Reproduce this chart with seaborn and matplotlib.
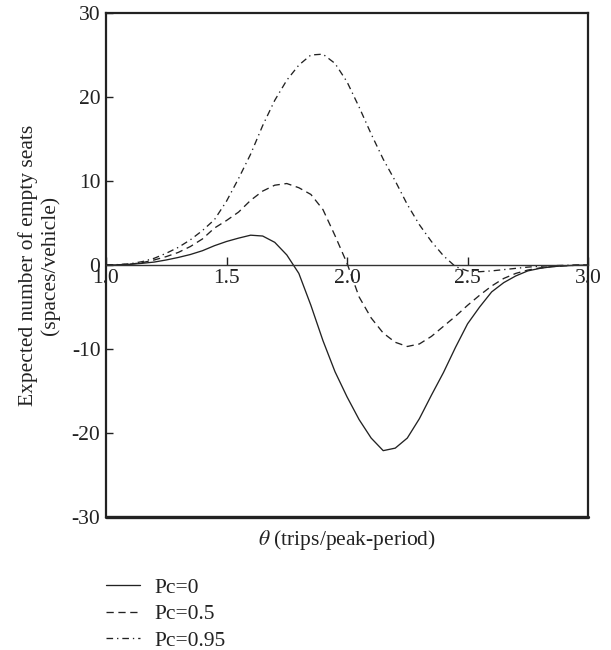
import pandas as pd
import matplotlib
matplotlib.use("Agg")
import matplotlib.pyplot as plt
import seaborn as sns

# values
theta = [1.00, 1.05, 1.10, 1.15, 1.20, 1.25, 1.30, 1.35, 1.40, 1.45,
         1.50, 1.55, 1.60, 1.65, 1.70, 1.75, 1.80, 1.85, 1.90, 1.95,
         2.00, 2.05, 2.10, 2.15, 2.20, 2.25, 2.30, 2.35, 2.40, 2.45,
         2.50, 2.55, 2.60, 2.65, 2.70, 2.75, 2.80, 2.85, 2.90, 2.95, 3.00]

pc_0 = [0.0, 0.02, 0.08, 0.2, 0.35, 0.6, 0.9, 1.25, 1.7, 2.3,
        2.8, 3.2, 3.55, 3.45, 2.7, 1.2, -1.0, -4.8, -9.0, -12.7,
        -15.7, -18.4, -20.6, -22.1, -21.8, -20.6, -18.3, -15.5, -12.8, -9.8,
        -7.0, -5.0, -3.2, -2.1, -1.3, -0.7, -0.4, -0.2, -0.1, -0.03, 0.0]

pc_05 = [0.0, 0.03, 0.1, 0.28, 0.6, 1.0, 1.5, 2.2, 3.1, 4.4,
         5.3, 6.3, 7.7, 8.8, 9.5, 9.7, 9.2, 8.4, 6.6, 3.5,
         0.2, -3.8, -6.3, -8.1, -9.2, -9.7, -9.4, -8.5, -7.3, -6.1,
         -4.8, -3.6, -2.5, -1.6, -1.0, -0.6, -0.35, -0.2, -0.1, -0.03, 0.0]

pc_095 = [0.0, 0.05, 0.15, 0.4, 0.8, 1.4, 2.1, 3.0, 4.1, 5.4,
          7.6, 10.3, 13.2, 16.6, 19.6, 22.0, 23.8, 25.0, 25.1, 24.0,
          21.8, 18.8, 15.6, 12.6, 10.0, 7.2, 4.8, 2.8, 1.1, -0.2,
          -0.7, -0.8, -0.7, -0.55, -0.4, -0.25, -0.15, -0.08, -0.04, -0.01, 0.0]

labels = ["Pc=0", "Pc=0.5", "Pc=0.95"]
styles = ["-", (0, (5.5, 3.5)), (0, (5, 3, 1, 3))]

x_ticks = [1.0, 1.5, 2.0, 2.5, 3.0]
y_ticks = [30, 20, 10, 0, -10, -20, -30]

df = pd.DataFrame({"theta": theta, labels[0]: pc_0, labels[1]: pc_05, labels[2]: pc_095})

sns.set_style("white")
plt.rcParams["font.family"] = ["Liberation Serif", "DejaVu Serif"]
plt.rcParams["mathtext.fontset"] = "stix"
plt.rcParams["axes.unicode_minus"] = False
fs = 15.5

fig = plt.figure(figsize=(6.11, 6.5), dpi=100)
ax = fig.add_axes([0.1735, 0.2046, 0.789, 0.7754])

for lab, ls in zip(labels, styles):
    sns.lineplot(data=df, x="theta", y=lab, ax=ax, color="#222222",
                 linestyle=ls, linewidth=0.95, label=lab)

ax.set_xlim(1.0, 3.0)
ax.set_ylim(-30, 30)
ax.set_xticks(x_ticks)
ax.set_xticklabels([f"{v:.1f}" for v in x_ticks])
ax.set_yticks(y_ticks)
ax.set_yticklabels([str(v) for v in y_ticks])

# x axis runs through zero, frame kept around the box
ax.spines["bottom"].set_position(("data", 0))
ax.spines["bottom"].set_linewidth(1.0)
ax.spines["bottom"].set_color("#333333")
for side in ["left", "right", "top"]:
    ax.spines[side].set_linewidth(1.6)
    ax.spines[side].set_color("#222222")
ax.axhline(ax.get_ylim()[0], color="#222222", linewidth=2.4, clip_on=False)

ax.tick_params(axis="x", direction="in", length=6, width=1.0, pad=3,
               labelsize=fs, colors="#222222")
ax.tick_params(axis="y", direction="in", length=5, width=1.0, pad=4,
               labelsize=fs, colors="#222222", left=True)
ax.tick_params(axis="x", bottom=True)

ax.set_xlabel(r"$\theta$ (trips/peak-period)", fontsize=fs, color="#222222")
ax.xaxis.set_label_coords(0.5, -0.022)
ax.set_ylabel("Expected number of empty seats\n(spaces/vehicle)",
              fontsize=fs, color="#222222", linespacing=1.2)
ax.yaxis.set_label_coords(-0.095, 0.5)

ax.legend(loc="upper left", bbox_to_anchor=(0.0, -0.12), frameon=False,
          fontsize=fs, handlelength=1.6, handletextpad=0.65,
          labelspacing=0.3, borderaxespad=0, borderpad=0, labelcolor="#222222")

fig.savefig("out.png", dpi=100)
